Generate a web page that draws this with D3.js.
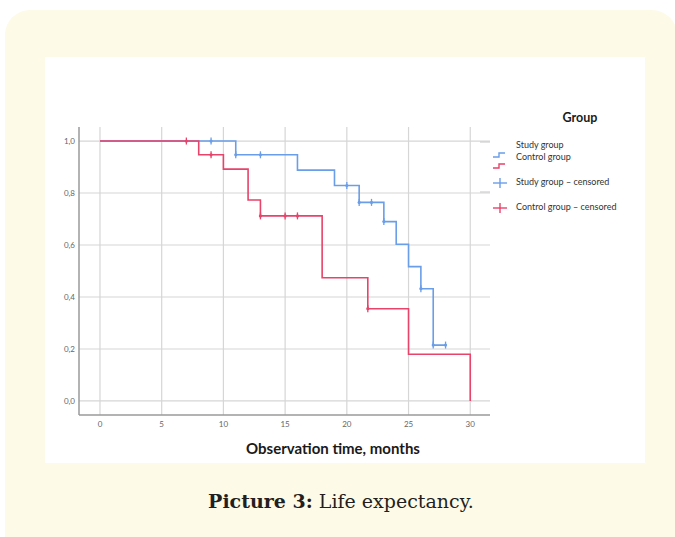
<!DOCTYPE html>
<html>
<head>
<meta charset="utf-8">
<script src="https://cdn.jsdelivr.net/npm/d3@7"></script>
<style>
  body { margin: 0; background: #fff; }
  svg { display: block; }
</style>
</head>
<body>
<div id="chart"></div>
<script>
// Kaplan-Meier steps
var studyTimes = [0, 11, 16, 19, 21, 23, 24, 25, 26, 27, 28];
var studySurv = [1, 0.947, 0.888, 0.829, 0.764, 0.690, 0.603, 0.517, 0.432, 0.215, 0.215];
var studyCensored = [9, 11, 13, 20, 21, 22, 23, 26, 27, 28];

var controlTimes = [0, 8, 10, 12, 13, 18, 21.7, 25, 30];
var controlSurv = [1, 0.947, 0.892, 0.773, 0.712, 0.474, 0.355, 0.180, 0];
var controlCensored = [7, 9, 13, 15, 16, 21.7];

var xTicks = [0, 5, 10, 15, 20, 25, 30];
var yTicks = [0, 0.2, 0.4, 0.6, 0.8, 1.0];
var legendLabels = ["Study group", "Control group", "Study group \u2013 censored", "Control group \u2013 censored"];

var blue = "#6a9ee8";
var red = "#e8436a";

var svg = d3.select("#chart")
  .append("svg")
  .attr("width", 675)
  .attr("height", 537);

// cream panel and white chart area
svg.append("rect")
  .attr("x", 5).attr("y", 10)
  .attr("width", 672).attr("height", 560)
  .attr("rx", 25)
  .attr("fill", "#fefae8");

svg.append("rect")
  .attr("x", 45).attr("y", 57)
  .attr("width", 600).attr("height", 406)
  .attr("fill", "#fff");

var x = d3.scaleLinear().domain([-1.7, 31.6]).range([79, 490]);
var y = d3.scaleLinear().domain([-0.054, 1.054]).range([415, 127]);

// grid
svg.append("g").selectAll("line")
  .data(xTicks)
  .enter().append("line")
  .attr("x1", d => x(d)).attr("x2", d => x(d))
  .attr("y1", y.range()[1]).attr("y2", y.range()[0])
  .attr("stroke", "#d6d6d6").attr("stroke-width", 1.2);

svg.append("g").selectAll("line")
  .data(yTicks)
  .enter().append("line")
  .attr("x1", x.range()[0]).attr("x2", x.range()[1])
  .attr("y1", d => y(d)).attr("y2", d => y(d))
  .attr("stroke", "#d6d6d6").attr("stroke-width", 1.2);

// axis lines
svg.append("line")
  .attr("x1", x.range()[0]).attr("x2", x.range()[0])
  .attr("y1", y.range()[1]).attr("y2", y.range()[0])
  .attr("stroke", "#9a9a9a").attr("stroke-width", 1.5);
svg.append("line")
  .attr("x1", x.range()[0]).attr("x2", x.range()[1])
  .attr("y1", y.range()[0]).attr("y2", y.range()[0])
  .attr("stroke", "#9a9a9a").attr("stroke-width", 1.5);

// tick labels
var fmt = d => d3.format(".1f")(d).replace(".", ",");
svg.append("g").selectAll("text")
  .data(yTicks)
  .enter().append("text")
  .attr("x", 75).attr("y", d => y(d) + 3)
  .attr("text-anchor", "end")
  .attr("font-family", "Lato, sans-serif")
  .attr("font-size", 8)
  .attr("fill", "#666")
  .text(fmt);

svg.append("g").selectAll("text")
  .data(xTicks)
  .enter().append("text")
  .attr("x", d => x(d)).attr("y", 427)
  .attr("text-anchor", "middle")
  .attr("font-family", "Lato, sans-serif")
  .attr("font-size", 8)
  .attr("fill", "#666")
  .text(d => d);

svg.append("text")
  .attr("x", 333).attr("y", 454)
  .attr("text-anchor", "middle")
  .attr("font-family", "Lato, sans-serif")
  .attr("font-weight", "bold")
  .attr("font-size", 15)
  .attr("fill", "#1a1a1a")
  .text("Observation time, months");

// survival curves
var line = d3.line()
  .x(d => x(d[0]))
  .y(d => y(d[1]))
  .curve(d3.curveStepAfter);

function survAt(times, surv, t) {
  var i = d3.bisectRight(times, t) - 1;
  return surv[Math.max(i, 0)];
}

function drawGroup(times, surv, censored, color) {
  svg.append("path")
    .datum(d3.zip(times, surv))
    .attr("d", line)
    .attr("fill", "none")
    .attr("stroke", color)
    .attr("stroke-width", 1.6);

  var marks = svg.append("g").selectAll("g")
    .data(censored)
    .enter().append("g")
    .attr("transform", d => `translate(${x(d)},${y(survAt(times, surv, d))})`);
  marks.append("line")
    .attr("y1", -3.5).attr("y2", 3.5)
    .attr("stroke", color).attr("stroke-width", 1.3);
  marks.append("circle")
    .attr("r", 1.6)
    .attr("fill", color);
}

drawGroup(studyTimes, studySurv, studyCensored, blue);
drawGroup(controlTimes, controlSurv, controlCensored, red);

// legend
svg.append("text")
  .attr("x", 580).attr("y", 122)
  .attr("text-anchor", "middle")
  .attr("font-family", "Lato, sans-serif")
  .attr("font-weight", "bold")
  .attr("font-size", 12.5)
  .attr("fill", "#1a1a1a")
  .text("Group");

[142, 192].forEach(function(ly) {
  svg.append("line")
    .attr("x1", 480).attr("x2", 490)
    .attr("y1", ly).attr("y2", ly)
    .attr("stroke", "#cfcfcf").attr("stroke-width", 1.2);
});

var legendY = [148, 160, 185, 210];
svg.append("g").selectAll("text")
  .data(legendLabels)
  .enter().append("text")
  .attr("x", 516).attr("y", (d, i) => legendY[i])
  .attr("font-family", "Lato, sans-serif")
  .attr("font-size", 9)
  .attr("fill", "#333")
  .text(d => d);

// step icons
[[155, blue], [166, red]].forEach(function(s) {
  var sy = s[0];
  svg.append("path")
    .attr("d", `M493,${sy + 2} H499 V${sy - 2} H505`)
    .attr("fill", "none")
    .attr("stroke", s[1]).attr("stroke-width", 1.4);
});

// censored icons
[[183, blue], [208, red]].forEach(function(s) {
  var cy = s[0];
  svg.append("line")
    .attr("x1", 493).attr("x2", 507).attr("y1", cy).attr("y2", cy)
    .attr("stroke", s[1]).attr("stroke-width", 1.4);
  svg.append("line")
    .attr("x1", 500).attr("x2", 500).attr("y1", cy - 5).attr("y2", cy + 5)
    .attr("stroke", s[1]).attr("stroke-width", 1.4);
});

// caption
var cap = svg.append("text")
  .attr("x", 341).attr("y", 508)
  .attr("text-anchor", "middle")
  .attr("font-family", "'DejaVu Serif', serif")
  .attr("font-size", 19)
  .attr("fill", "#231f20");
cap.append("tspan").attr("font-weight", "bold").text("Picture 3:");
cap.append("tspan").text(" Life expectancy.");
</script>
</body>
</html>
